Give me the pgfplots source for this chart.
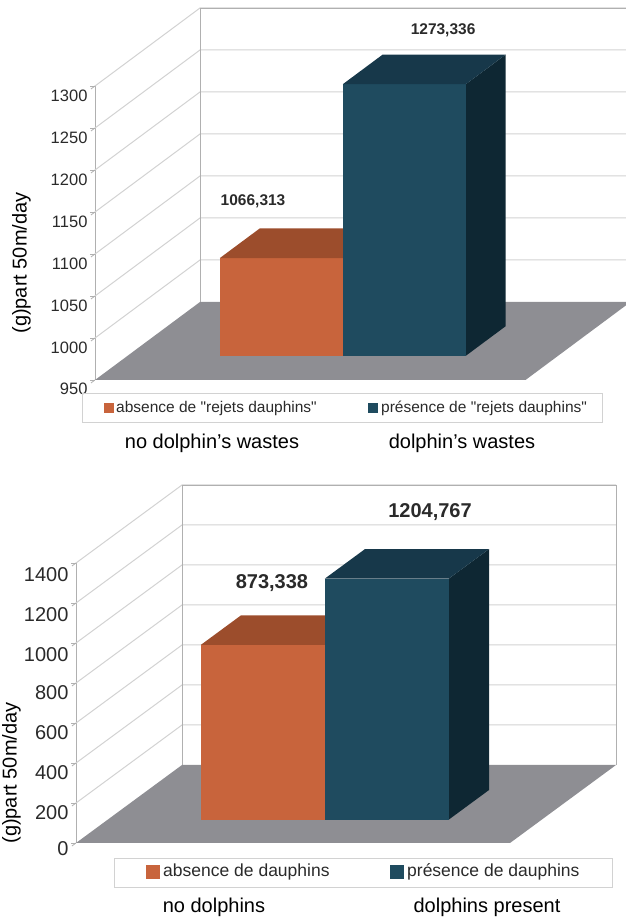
\documentclass[border=0pt]{standalone}
\usepackage{pgfplots}
\pgfplotsset{compat=1.18}
\usepackage{fontspec}
\setmainfont{Liberation Sans}
\definecolor{orF}{HTML}{C8643C}
\definecolor{orT}{HTML}{9C4D2C}
\definecolor{blF}{HTML}{1F4B5F}
\definecolor{blT}{HTML}{17384A}
\definecolor{blS}{HTML}{0E2733}
\definecolor{floorc}{HTML}{8E8E93}
\definecolor{gridc}{HTML}{D2D2D2}
\definecolor{framec}{HTML}{B0B0B0}
\definecolor{txt}{HTML}{2A2A2A}
\newcommand{\fs}[1]{\fontsize{#1}{#1}\selectfont}
\begin{document}
\begin{tikzpicture}[x=1pt,y=1pt]
\path[use as bounding box] (0,0) rectangle (626,921);
% ---------------- top panel ----------------
\begin{axis}[
  at={(95pt,541pt)}, anchor=origin,
  x={(123pt,0pt)}, y={(105pt,78pt)}, z={(0pt,0.84pt)},
  xmin=0, xmax=3.5, ymin=0, ymax=1, zmin=950, zmax=1300,
  xtick=\empty, ytick=\empty, ztick={950,1000,...,1300},
  axis lines=left, axis line style={draw=framec, line width=0.8pt, -},
  x axis line style={draw=none}, y axis line style={draw=none},
  tick align=outside, major tick length=5pt,
  tick style={draw=framec, line width=0.8pt},
  scaled z ticks=false,
  /pgf/number format/1000 sep={},
  /pgf/number format/assume math mode=true,
  zticklabel style={font=\fs{16.5}, text=txt},
  clip=false,
]
\pgfplotsinvokeforeach{1000,1050,...,1300}{
  \draw[gridc, line width=1pt] (axis cs:0,0,#1) -- (axis cs:0,1,#1) -- (axis cs:3.5,1,#1);
}
\draw[framec, line width=0.8pt] (axis cs:0,1,950) -- (axis cs:0,1,1300) -- (axis cs:3.5,1,1300) -- (axis cs:3.5,1,950);
\fill[floorc] (axis cs:0,0,950) -- (axis cs:3.5,0,950) -- (axis cs:3.5,1,950) -- (axis cs:0,1,950) -- cycle;
% orange bar
\addplot3[fill=orF, draw=none] coordinates {(0.75,0.31,950) (1.75,0.31,950) (1.75,0.31,1066.313) (0.75,0.31,1066.313)};
\addplot3[fill=orT, draw=none] coordinates {(0.75,0.31,1066.313) (1.75,0.31,1066.313) (1.75,0.69,1066.313) (0.75,0.69,1066.313)};
% blue bar
\addplot3[fill=blS, draw=none] coordinates {(2.75,0.31,950) (2.75,0.69,950) (2.75,0.69,1273.336) (2.75,0.31,1273.336)};
\addplot3[fill=blF, draw=none] coordinates {(1.75,0.31,950) (2.75,0.31,950) (2.75,0.31,1273.336) (1.75,0.31,1273.336)};
\addplot3[fill=blT, draw=none] coordinates {(1.75,0.31,1273.336) (2.75,0.31,1273.336) (2.75,0.69,1273.336) (1.75,0.69,1273.336)};
\node[font=\bfseries\fs{15.5}, text=txt] at (axis cs:1.285,0,1163) {1066,313};
\node[font=\bfseries\fs{15.5}, text=txt] at (axis cs:2.83,0,1366.7) {1273,336};
\end{axis}
% ---------------- bottom panel ----------------
\begin{axis}[
  at={(76pt,78pt)}, anchor=origin,
  x={(124pt,0pt)}, y={(106pt,78pt)}, z={(0pt,0.2pt)},
  xmin=0, xmax=3.5, ymin=0, ymax=1, zmin=0, zmax=1400,
  xtick=\empty, ytick=\empty, ztick={0,200,...,1400},
  axis lines=left, axis line style={draw=framec, line width=0.8pt, -},
  x axis line style={draw=none}, y axis line style={draw=none},
  tick align=outside, major tick length=5pt,
  tick style={draw=framec, line width=0.8pt},
  scaled z ticks=false,
  /pgf/number format/1000 sep={},
  /pgf/number format/assume math mode=true,
  zticklabel style={font=\fs{20}, text=txt},
  clip=false,
]
\pgfplotsinvokeforeach{200,400,...,1400}{
  \draw[gridc, line width=1pt] (axis cs:0,0,#1) -- (axis cs:0,1,#1) -- (axis cs:3.5,1,#1);
}
\draw[framec, line width=0.8pt] (axis cs:0,1,0) -- (axis cs:0,1,1400) -- (axis cs:3.5,1,1400) -- (axis cs:3.5,1,0);
\fill[floorc] (axis cs:0,0,0) -- (axis cs:3.5,0,0) -- (axis cs:3.5,1,0) -- (axis cs:0,1,0) -- cycle;
\addplot3[fill=orF, draw=none] coordinates {(0.75,0.3,0) (1.75,0.3,0) (1.75,0.3,873.338) (0.75,0.3,873.338)};
\addplot3[fill=orT, draw=none] coordinates {(0.75,0.3,873.338) (1.75,0.3,873.338) (1.75,0.68,873.338) (0.75,0.68,873.338)};
\addplot3[fill=blS, draw=none] coordinates {(2.75,0.3,0) (2.75,0.68,0) (2.75,0.68,1204.767) (2.75,0.3,1204.767)};
\addplot3[fill=blF, draw=none] coordinates {(1.75,0.3,0) (2.75,0.3,0) (2.75,0.3,1204.767) (1.75,0.3,1204.767)};
\addplot3[fill=blT, draw=none] coordinates {(1.75,0.3,1204.767) (2.75,0.3,1204.767) (2.75,0.68,1204.767) (1.75,0.68,1204.767)};
\node[font=\bfseries\fs{20}, text=txt] at (axis cs:1.58,0,1300) {873,338};
\node[font=\bfseries\fs{20}, text=txt] at (axis cs:2.855,0,1655) {1204,767};
\end{axis}
% ---------------- legends, labels ----------------
\draw[gray!35, line width=0.8pt] (82,499) rectangle (602,528);
\fill[orF] (104,508) rectangle (114,518);
\node[anchor=west, inner sep=0pt, font=\fs{15.5}, text=txt] at (116,513) {absence de \textquotedbl rejets dauphins\textquotedbl};
\fill[blF] (368,508) rectangle (378,518);
\node[anchor=west, inner sep=0pt, font=\fs{15.5}, text=txt] at (381,513) {présence de \textquotedbl rejets dauphins\textquotedbl};
\node[font=\fs{20}] at (212,478) {no dolphin’s wastes};
\node[font=\fs{20}] at (462,478) {dolphin’s wastes};
\node[rotate=90, font=\fs{20}] at (21.5,658) {(g)part 50m/day};
%
\draw[gray!35, line width=0.8pt] (114,34) rectangle (612,63);
\fill[orF] (146,42) rectangle (160,56);
\node[anchor=west, inner sep=0pt, font=\fs{17.5}, text=txt] at (163,49) {absence de dauphins};
\fill[blF] (390,42) rectangle (404,56);
\node[anchor=west, inner sep=0pt, font=\fs{17.5}, text=txt] at (407,49) {présence de dauphins};
\node[font=\fs{20}] at (214,14) {no dolphins};
\node[font=\fs{20}] at (487,14) {dolphins present};
\node[rotate=90, font=\fs{20}] at (11.5,148) {(g)part 50m/day};
\end{tikzpicture}
\end{document}
